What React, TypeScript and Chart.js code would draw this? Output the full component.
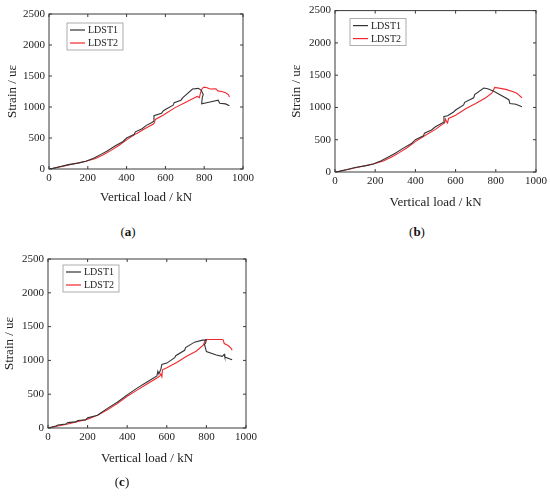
import React, { useEffect, useRef } from "react";
import { Chart, registerables } from "chart.js";

Chart.register(...registerables);

const seriesLabels = ["LDST1", "LDST2"];
const seriesColors = ["#333333", "#f0282f"];
const xTicks = [0, 200, 400, 600, 800, 1000];
const yTicks = [0, 500, 1000, 1500, 2000, 2500];
const xTitle = "Vertical load / kN";
const yTitle = "Strain / uε";

// Panel (a)
const aLoad1 = [0, 20, 60, 100, 150, 190, 230, 270, 300, 340, 380, 400, 440, 445, 480, 500, 530, 540, 541, 580, 590, 600, 640, 645, 680, 690, 700, 740, 770, 785, 795, 790, 787, 830, 872, 880, 910, 930];
const aStrain1 = [0, 10, 40, 70, 95, 125, 175, 240, 290, 370, 440, 500, 560, 600, 650, 700, 750, 770, 860, 900, 940, 960, 1030, 1070, 1110, 1150, 1180, 1290, 1300, 1270, 1200, 1150, 1050, 1080, 1110, 1060, 1050, 1020];
const aLoad2 = [0, 30, 80, 130, 190, 240, 280, 320, 360, 400, 450, 500, 540, 545, 548, 590, 600, 650, 700, 750, 765, 775, 782, 790, 800, 815, 830, 860, 870, 890, 910, 925, 930];
const aStrain2 = [0, 15, 50, 85, 125, 170, 230, 300, 380, 470, 570, 660, 730, 760, 800, 870, 890, 990, 1070, 1150, 1170, 1150, 1240, 1300, 1320, 1310, 1290, 1295, 1260, 1250, 1230, 1200, 1160];

// Panel (b)
const bLoad1 = [0, 20, 60, 100, 150, 190, 230, 270, 300, 340, 380, 400, 440, 445, 480, 500, 540, 542, 560, 590, 600, 640, 645, 690, 695, 740, 760, 790, 830, 865, 870, 900, 930];
const bStrain1 = [0, 10, 40, 70, 95, 125, 175, 240, 290, 370, 440, 500, 560, 600, 650, 700, 770, 860, 870, 930, 960, 1040, 1080, 1150, 1200, 1300, 1290, 1250, 1180, 1120, 1060, 1050, 1010];
const bLoad2 = [0, 30, 80, 130, 190, 240, 280, 320, 360, 400, 450, 500, 530, 545, 550, 555, 560, 565, 600, 650, 700, 750, 780, 795, 850, 890, 905, 915, 930];
const bStrain2 = [0, 15, 50, 85, 125, 170, 230, 300, 380, 470, 570, 660, 730, 760, 820, 780, 760, 830, 880, 980, 1060, 1150, 1220, 1310, 1280, 1240, 1220, 1190, 1150];

// Panel (c)
const cLoad1 = [0, 40, 50, 90, 100, 140, 150, 190, 200, 240, 250, 300, 350, 400, 450, 500, 550, 555, 560, 570, 575, 600, 640, 645, 690, 695, 740, 780, 800, 795, 790, 800, 850, 880, 890, 893, 930];
const cStrain1 = [0, 30, 45, 60, 80, 90, 110, 120, 150, 180, 190, 290, 380, 490, 590, 680, 770, 840, 800, 870, 940, 960, 1040, 1070, 1150, 1190, 1270, 1300, 1300, 1250, 1240, 1130, 1080, 1060, 1090, 1050, 1010];
const cLoad2 = [0, 100, 200, 250, 300, 350, 400, 450, 500, 550, 565, 570, 575, 578, 600, 650, 700, 750, 785, 795, 850, 880, 885, 890, 910, 925, 930];
const cStrain2 = [0, 60, 130, 190, 270, 360, 470, 560, 650, 740, 770, 800, 760, 860, 890, 970, 1060, 1140, 1230, 1310, 1310, 1310, 1300, 1250, 1220, 1180, 1150];

const FONT = "'Liberation Serif', 'Times New Roman', serif";

const frameTicksPlugin = {
  id: "frameTicks",
  afterDatasetsDraw(chart: any) {
    const { ctx, chartArea, scales } = chart;
    const { left, right, top, bottom } = chartArea;
    ctx.save();
    ctx.strokeStyle = "#3a3a3a";
    ctx.lineWidth = 1;
    ctx.strokeRect(left, top, right - left, bottom - top);
    const len = 3;
    ctx.beginPath();
    scales.x.ticks.forEach((t: any) => {
      const px = scales.x.getPixelForValue(t.value);
      ctx.moveTo(px, bottom);
      ctx.lineTo(px, bottom - len);
      ctx.moveTo(px, top);
      ctx.lineTo(px, top + len);
    });
    scales.y.ticks.forEach((t: any) => {
      const py = scales.y.getPixelForValue(t.value);
      ctx.moveTo(left, py);
      ctx.lineTo(left + len, py);
      ctx.moveTo(right, py);
      ctx.lineTo(right - len, py);
    });
    ctx.stroke();
    ctx.restore();
  },
};

const boxLegendPlugin = {
  id: "boxLegend",
  afterDraw(chart: any, _args: any, opts: any) {
    const { ctx, chartArea } = chart;
    const x0 = chartArea.left + (opts.ox ?? 16);
    const y0 = chartArea.top + (opts.oy ?? 8);
    const w = 56;
    const h = 27;
    ctx.save();
    ctx.fillStyle = "#ffffff";
    ctx.fillRect(x0, y0, w, h);
    ctx.strokeStyle = "#999999";
    ctx.lineWidth = 0.8;
    ctx.strokeRect(x0, y0, w, h);
    ctx.font = `10px ${FONT}`;
    ctx.textBaseline = "middle";
    ctx.textAlign = "left";
    chart.data.datasets.forEach((ds: any, i: number) => {
      const y = y0 + 7 + i * 13;
      ctx.strokeStyle = ds.borderColor;
      ctx.lineWidth = 1.2;
      ctx.beginPath();
      ctx.moveTo(x0 + 3, y);
      ctx.lineTo(x0 + 18, y);
      ctx.stroke();
      ctx.fillStyle = "#222222";
      ctx.fillText(ds.label, x0 + 21, y + 0.5);
    });
    ctx.restore();
  },
};

type PanelProps = {
  load1: number[];
  strain1: number[];
  load2: number[];
  strain2: number[];
  left: number;
  top: number;
  width: number;
  height: number;
  yW: number;
  xH: number;
  padTop: number;
  padRight: number;
  padBottom: number;
  yTitlePad: number;
  lox: number;
  loy: number;
};

function Panel(p: PanelProps) {
  const ref = useRef<HTMLCanvasElement | null>(null);
  useEffect(() => {
    if (!ref.current) return;
    const toPts = (xs: number[], ys: number[]) => xs.map((x, i) => ({ x, y: ys[i] }));
    const chart = new Chart(ref.current, {
      type: "scatter",
      data: {
        datasets: [
          {
            label: seriesLabels[0],
            data: toPts(p.load1, p.strain1),
            showLine: true,
            borderColor: seriesColors[0],
            backgroundColor: seriesColors[0],
            borderWidth: 1.1,
            pointRadius: 0,
            tension: 0,
          },
          {
            label: seriesLabels[1],
            data: toPts(p.load2, p.strain2),
            showLine: true,
            borderColor: seriesColors[1],
            backgroundColor: seriesColors[1],
            borderWidth: 1.1,
            pointRadius: 0,
            tension: 0,
          },
        ],
      },
      options: {
        animation: false,
        responsive: false,
        devicePixelRatio: 1,
        layout: { padding: { left: 0, top: p.padTop, right: p.padRight, bottom: p.padBottom } },
        plugins: {
          legend: { display: false },
          tooltip: { enabled: false },
          boxLegend: { ox: p.lox, oy: p.loy },
        } as any,
        scales: {
          x: {
            type: "linear",
            min: 0,
            max: 1000,
            afterBuildTicks: (s: any) => {
              s.ticks = xTicks.map((v) => ({ value: v }));
            },
            afterFit: (s: any) => {
              s.height = p.xH;
            },
            ticks: {
              font: { family: FONT, size: 11 },
              color: "#222",
              padding: 3,
              maxRotation: 0,
              callback: (v: any) => String(v),
            },
            grid: { display: false, drawTicks: false },
            border: { display: false },
            title: {
              display: true,
              text: xTitle,
              font: { family: FONT, size: 13 },
              color: "#222",
              padding: { top: 0, bottom: 0 },
            },
          },
          y: {
            type: "linear",
            min: 0,
            max: 2500,
            afterBuildTicks: (s: any) => {
              s.ticks = yTicks.map((v) => ({ value: v }));
            },
            afterFit: (s: any) => {
              s.width = p.yW;
            },
            ticks: {
              font: { family: FONT, size: 11 },
              color: "#222",
              padding: 4,
              callback: (v: any) => String(v),
            },
            grid: { display: false, drawTicks: false },
            border: { display: false },
            title: {
              display: true,
              text: yTitle,
              font: { family: FONT, size: 13 },
              color: "#222",
              padding: { top: p.yTitlePad, bottom: 0 },
            },
          },
        },
      } as any,
      plugins: [frameTicksPlugin, boxLegendPlugin],
    });
    return () => chart.destroy();
  }, []);
  return (
    <canvas
      ref={ref}
      width={p.width}
      height={p.height}
      style={{ position: "absolute", left: p.left, top: p.top, width: p.width, height: p.height }}
    />
  );
}

function PanelLabel({ letter, cx, cy }: { letter: string; cx: number; cy: number }) {
  return (
    <div
      style={{
        position: "absolute",
        left: cx - 20,
        top: cy - 9,
        width: 40,
        height: 18,
        lineHeight: "18px",
        textAlign: "center",
        fontFamily: FONT,
        fontSize: 13,
        color: "#111",
      }}
    >
      (<b>{letter}</b>)
    </div>
  );
}

export default function App() {
  return (
    <div style={{ position: "absolute", left: 0, top: 0, width: 550, height: 501, background: "#fff", overflow: "hidden" }}>
      <Panel
        load1={aLoad1} strain1={aStrain1} load2={aLoad2} strain2={aStrain2}
        left={0} top={0} width={260} height={215}
        yW={49} xH={36} padTop={14} padRight={17} padBottom={10} yTitlePad={5}
        lox={18} loy={9}
      />
      <Panel
        load1={bLoad1} strain1={bStrain1} load2={bLoad2} strain2={bStrain2}
        left={280} top={0} width={270} height={215}
        yW={55} xH={38} padTop={9} padRight={13} padBottom={5} yTitlePad={9}
        lox={15} loy={8}
      />
      <Panel
        load1={cLoad1} strain1={cStrain1} load2={cLoad2} strain2={cStrain2}
        left={0} top={245} width={260} height={230}
        yW={48} xH={38} padTop={14} padRight={13} padBottom={9} yTitlePad={2}
        lox={15} loy={6}
      />
      <PanelLabel letter="a" cx={128} cy={232} />
      <PanelLabel letter="b" cx={417} cy={232} />
      <PanelLabel letter="c" cx={122} cy={482} />
    </div>
  );
}
